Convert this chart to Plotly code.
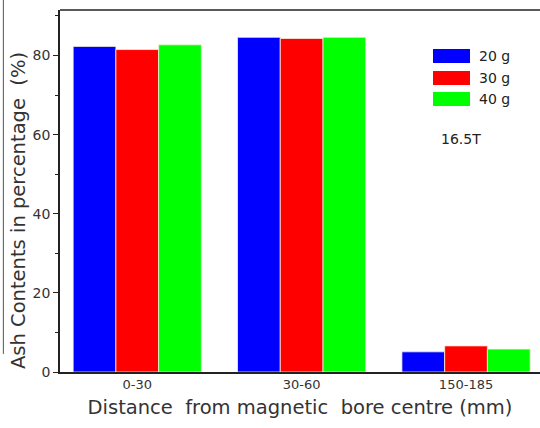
import plotly.graph_objects as go

categories = ["0-30", "30-60", "150-185"]
series_names = ["20 g", "30 g", "40 g"]
values_20g = [82.3, 84.6, 5.1]
values_30g = [81.5, 84.3, 6.6]
values_40g = [82.7, 84.6, 5.8]
colors = ["#0000ff", "#ff0000", "#00ff00"]
y_ticks = [0, 20, 40, 60, 80]

fig = go.Figure()
for name, vals, col in zip(series_names, [values_20g, values_30g, values_40g], colors):
    fig.add_trace(go.Bar(x=categories, y=vals, name=name,
                         marker=dict(color=col, line=dict(color="#f4f0d8", width=0.8)),
                         showlegend=False))

fig.update_layout(
    width=540, height=428,
    margin=dict(l=60, r=0, t=10, b=56),
    plot_bgcolor="white", paper_bgcolor="white",
    barmode="group", bargap=0.22, bargroupgap=0.0,
    font=dict(family="DejaVu Sans", color="#333333"),
    xaxis=dict(range=[-0.47, 2.45], showline=True, linecolor="#222222", linewidth=1.5,
               ticks="", tickfont=dict(size=13), mirror=False, showgrid=False,
               title=dict(text="Distance  from magnetic  bore centre (mm)",
                          font=dict(size=19.5, color="#333333"), standoff=9)),
    yaxis=dict(range=[0, 91.5], tickvals=y_ticks, showline=True, linecolor="#222222",
               linewidth=1.5, ticks="outside", ticklen=5, tickcolor="#222222",
               minor=dict(tickvals=[10, 30, 50, 70, 90], ticks="outside", ticklen=3,
                          tickcolor="#222222"),
               tickfont=dict(size=14), showgrid=False, zeroline=False),
)

# y-axis title placed to match reference centring
fig.add_annotation(xref="paper", yref="paper", x=(18 - 60) / 480, y=(372 - 211) / 362,
                   text="Ash Contents in percentage  (%)", textangle=-90, showarrow=False,
                   xanchor="center", yanchor="middle",
                   font=dict(size=19.5, color="#333333"))

# top frame line
fig.add_shape(type="line", xref="paper", yref="paper", x0=0, x1=1, y0=1, y1=1,
              line=dict(color="#222222", width=1.5))
# faint left border artifact
fig.add_shape(type="line", xref="paper", yref="paper", x0=-0.118, x1=-0.118, y0=0.05, y1=1.03,
              line=dict(color="#555555", width=1))

# custom legend
leg_y = [56, 78, 99]
for name, col, yy in zip(series_names, colors, leg_y):
    fig.add_shape(type="rect", xref="paper", yref="paper",
                  x0=(433 - 60) / 480, x1=(470 - 60) / 480,
                  y0=(372 - (yy + 7)) / 362, y1=(372 - (yy - 7)) / 362,
                  fillcolor=col, line=dict(width=0))
    fig.add_annotation(xref="paper", yref="paper", x=(477 - 60) / 480, y=(372 - yy) / 362,
                       text=name, showarrow=False, xanchor="left", yanchor="middle",
                       font=dict(size=14, color="#222222"))
fig.add_annotation(xref="paper", yref="paper", x=(439 - 60) / 480, y=(372 - 139) / 362,
                   text="16.5T", showarrow=False, xanchor="left", yanchor="middle",
                   font=dict(size=14, color="#222222"))

fig.write_html("out.html")
